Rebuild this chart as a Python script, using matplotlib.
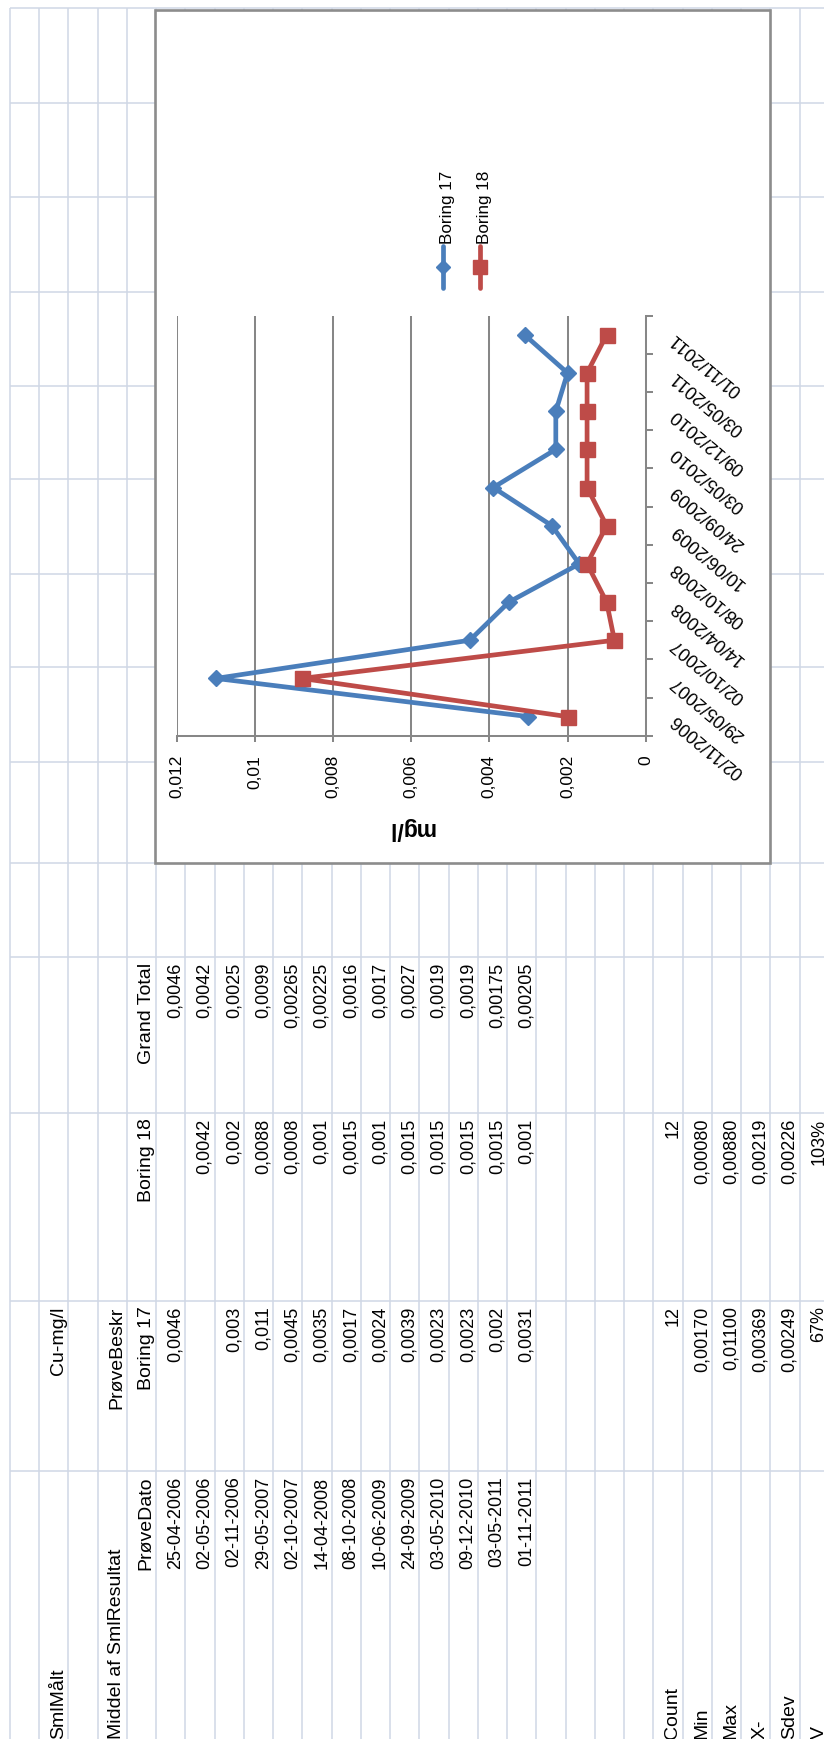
import matplotlib
matplotlib.use("Agg")
import matplotlib.pyplot as plt
from matplotlib.patches import Rectangle
from matplotlib.ticker import MultipleLocator, FuncFormatter

plt.rcParams["font.family"] = ["Liberation Sans", "DejaVu Sans"]

# ---- pivot table data -------------------------------------------------------
series_names = ["Boring 17", "Boring 18"]
sample_dates = ["25-04-2006", "02-05-2006", "02-11-2006", "29-05-2007", "02-10-2007",
                "14-04-2008", "08-10-2008", "10-06-2009", "24-09-2009", "03-05-2010",
                "09-12-2010", "03-05-2011", "01-11-2011"]
boring_17 = [0.0046, None, 0.003, 0.011, 0.0045, 0.0035, 0.0017, 0.0024, 0.0039,
             0.0023, 0.0023, 0.002, 0.0031]
boring_18 = [None, 0.0042, 0.002, 0.0088, 0.0008, 0.001, 0.0015, 0.001, 0.0015,
             0.0015, 0.0015, 0.0015, 0.001]
grand_total = [0.0046, 0.0042, 0.0025, 0.0099, 0.00265, 0.00225, 0.0016, 0.0017,
               0.0027, 0.0019, 0.0019, 0.00175, 0.00205]

stat_names = ["Count", "Min", "Max", "X-", "Sdev", "V"]
stats_17 = ["12", "0,00170", "0,01100", "0,00369", "0,00249", "67%"]
stats_18 = ["12", "0,00080", "0,00880", "0,00219", "0,00226", "103%"]

# ---- chart data (dates where both borings were sampled) --------------------
chart_dates = ["02/11/2006", "29/05/2007", "02/10/2007", "14/04/2008", "08/10/2008",
               "10/06/2009", "24/09/2009", "03/05/2010", "09/12/2010", "03/05/2011",
               "01/11/2011"]
chart_17 = boring_17[2:]
chart_18 = boring_18[2:]

# ---- styling ----------------------------------------------------------------
W, H = 824, 1740
SHEET_GRID = "#D0D7E5"
AXIS_GRAY = "#878787"
BLUE = "#4A7EBB"
RED = "#BE4B48"

fig = plt.figure(figsize=(W / 100, H / 100), dpi=100)
fig.patch.set_facecolor("white")

# sheet layer in pixel coordinates (y downwards)
bg = fig.add_axes([0, 0, 1, 1])
bg.set_xlim(0, W)
bg.set_ylim(H, 0)
bg.axis("off")

row_lines = [10 + 29.25 * k for k in range(29)]
col_lines = [9.3, 104.3, 198.3, 292.7, 386.7, 480, 575, 668.3, 762.7, 864, 958,
             1114, 1302, 1472]
bg.vlines(row_lines, 9.3, H, color=SHEET_GRID, lw=1.1, zorder=1)
bg.hlines(col_lines, 10, W, color=SHEET_GRID, lw=1.1, zorder=1)

# column tops (text ends here) for columns D, C, B, A
col_top = {"A": 1476.5, "B": 1306.5, "C": 1118.5, "D": 962.5}
COL_A_START = 1739


def cell(row, col, s, size=13, left=False):
    x = row_lines[row + 1] - 5.5
    if left:
        bg.text(x, COL_A_START, s, rotation=90, rotation_mode="anchor",
                ha="left", va="baseline", fontsize=size, color="black", zorder=2)
    else:
        bg.text(x, col_top[col], s, rotation=90, rotation_mode="anchor",
                ha="right", va="baseline", fontsize=size, color="black", zorder=2)


def fmt(v):
    return "" if v is None else repr(v).replace(".", ",")


cell(1, "A", "SmlMålt", 14, left=True)
cell(1, "B", "Cu-mg/l", 14)
cell(3, "A", "Middel af SmlResultat", 14, left=True)
cell(3, "B", "PrøveBeskr", 14)
cell(4, "A", "PrøveDato", 14)
cell(4, "B", series_names[0], 14)
cell(4, "C", series_names[1], 14)
cell(4, "D", "Grand Total", 14)

for i, d in enumerate(sample_dates):
    r = 5 + i
    cell(r, "A", d)
    cell(r, "B", fmt(boring_17[i]))
    cell(r, "C", fmt(boring_18[i]))
    cell(r, "D", fmt(grand_total[i]))

for i, name in enumerate(stat_names):
    r = 22 + i
    cell(r, "A", name, 14, left=True)
    cell(r, "B", stats_17[i])
    cell(r, "C", stats_18[i])

# chart area frame
bg.add_patch(Rectangle((155, 10.5), 615, 853.5, facecolor="white",
                       edgecolor="#8C8C8C", lw=1.9, zorder=3))

# legend (entries side by side, handles vertical)
leg_x = [443.3, 480.0]
leg_marker = [("D", 7.0), ("s", 10.0)]
for name, lx, color, (mk, ms) in zip(series_names, leg_x, [BLUE, RED], leg_marker):
    bg.plot([lx, lx], [246.7, 289.3], color=color, lw=3.4, solid_capstyle="round",
            zorder=4)
    bg.plot([lx], [268], marker=mk, ms=ms, color=color, mec=color, zorder=5)
    bg.text(lx + 9.0, 243.5, name, rotation=90, rotation_mode="anchor", ha="left",
            va="baseline", fontsize=12.3, color="black", zorder=5)

# ---- line chart -------------------------------------------------------------
px_l, px_r, px_t, px_b = 176.7, 645.7, 316.7, 736.7
ax = fig.add_axes([px_l / W, 1 - px_b / H, (px_r - px_l) / W, (px_b - px_t) / H])
ax.set_zorder(5)
ax.patch.set_alpha(0)

pos = list(range(len(chart_dates)))
ax.plot(chart_17, pos, color=BLUE, lw=3.4, marker="D", ms=8.4, mfc=BLUE, mec=BLUE,
        solid_joinstyle="round", solid_capstyle="round", clip_on=False, zorder=3,
        label=series_names[0])
ax.plot(chart_18, pos, color=RED, lw=3.4, marker="s", ms=10.8, mfc=RED, mec=RED,
        solid_joinstyle="round", solid_capstyle="round", clip_on=False, zorder=4,
        label=series_names[1])

ax.set_xlim(0.012, 0)
ax.set_ylim(-0.5, len(chart_dates) - 0.5)

ax.xaxis.set_major_locator(MultipleLocator(0.002))
ax.xaxis.set_major_formatter(
    FuncFormatter(lambda v, p: ("%g" % round(v, 6)).replace(".", ",")))
ax.grid(axis="x", color=AXIS_GRAY, lw=1.45)
ax.grid(axis="y", visible=False)
ax.set_axisbelow(True)

for side in ("top", "left"):
    ax.spines[side].set_visible(False)
for side in ("bottom", "right"):
    ax.spines[side].set_color(AXIS_GRAY)
    ax.spines[side].set_linewidth(1.45)

ax.tick_params(axis="x", direction="out", length=4.3, width=1.45, color=AXIS_GRAY,
               pad=8.9, labelsize=12.5, labelrotation=90, labelcolor="black")

ax.yaxis.tick_right()
ax.set_yticks(pos)
ax.set_yticklabels(chart_dates, rotation=140, rotation_mode="anchor", ha="right",
                   va="center", fontsize=13, color="black")
ax.set_yticks([p - 0.5 for p in pos] + [pos[-1] + 0.5], minor=True)
ax.tick_params(axis="y", which="major", length=0, pad=19.5)
ax.tick_params(axis="y", which="minor", length=5, width=1.45, color=AXIS_GRAY,
               direction="out", right=True, left=False)

ax.set_xlabel("mg/l", rotation=180, fontsize=16.5, fontweight="bold", color="black")
ax.xaxis.set_label_coords(0.5, -(816.7 - px_b) / (px_b - px_t))

fig.savefig("out.png", dpi=100)
